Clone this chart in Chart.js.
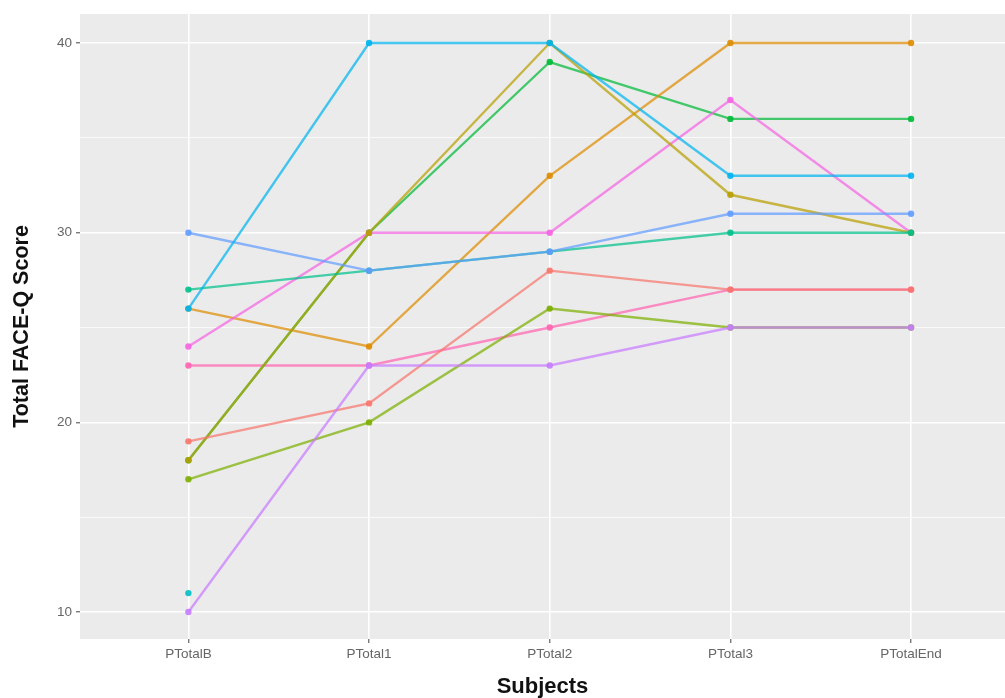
<!DOCTYPE html>
<html>
<head>
<meta charset="utf-8">
<script src="https://cdn.jsdelivr.net/npm/chart.js@4/dist/chart.umd.min.js"></script>
<style>
  html, body { margin: 0; padding: 0; background: #fff; overflow: hidden; }
  canvas { display: block; }
</style>
</head>
<body>
<canvas id="chart" width="1005" height="698"></canvas>
<script>
// categories on the x axis
const categories = ['PTotalB', 'PTotal1', 'PTotal2', 'PTotal3', 'PTotalEnd'];
const yTicks = [10, 15, 20, 25, 30, 35, 40];

// one array per subject (null = missing)
const cyanVals       = [26, 40, 40, 33, 33];
const blueVals       = [30, 28, 29, 31, 31];
const purpleVals     = [10, 23, 23, 25, 25];
const redVals        = [19, 21, 28, 27, 27];
const tealGreenVals  = [27, 28, 29, 30, 30];
const oliveVals      = [18, 30, 40, 32, 30];
const magentaVals    = [24, 30, 30, 37, 30];
const orangeVals     = [26, 24, 33, 40, 40];
const greenVals      = [18, 30, 39, 36, 36];
const limeVals       = [17, 20, 26, 25, 25];
const pinkVals       = [23, 23, 25, 27, 27];
const tealVals       = [11, null, null, null, null];

// first in list is drawn on top
const series = [
  { vals: cyanVals, color: [0, 180, 240] },
  { vals: blueVals, color: [97, 156, 255] },
  { vals: purpleVals, color: [199, 124, 255] },
  { vals: redVals, color: [248, 118, 109] },
  { vals: tealGreenVals, color: [0, 192, 139] },
  { vals: oliveVals, color: [183, 159, 0] },
  { vals: magentaVals, color: [245, 100, 227] },
  { vals: orangeVals, color: [222, 140, 0] },
  { vals: greenVals, color: [0, 186, 56] },
  { vals: limeVals, color: [124, 174, 0] },
  { vals: pinkVals, color: [255, 100, 176] },
  { vals: tealVals, color: [0, 191, 196] }
];

const rgba = (c, a) => 'rgba(' + c.join(',') + ',' + a + ')';

const panelBg = {
  id: 'panelBg',
  beforeDraw(chart) {
    const { ctx, chartArea: a } = chart;
    ctx.save();
    ctx.fillStyle = '#EBEBEB';
    ctx.fillRect(a.left, a.top, a.right - a.left, a.bottom - a.top);
    ctx.restore();
  }
};

const isMajor = v => v % 10 === 0;
const fontFam = 'Liberation Sans, Arial, sans-serif';

new Chart(document.getElementById('chart'), {
  type: 'line',
  data: {
    datasets: series.map(s => ({
      data: s.vals.map((v, i) => ({ x: i, y: v })),
      borderColor: rgba(s.color, 0.72),
      backgroundColor: rgba(s.color, 0.9),
      borderWidth: 2.4,
      pointRadius: 3.2,
      pointBorderWidth: 0,
      spanGaps: false,
      tension: 0
    }))
  },
  options: {
    responsive: false,
    animation: false,
    layout: { autoPadding: false, padding: { top: 14, right: 0, left: 0, bottom: 0 } },
    plugins: { legend: { display: false }, tooltip: { enabled: false } },
    scales: {
      x: {
        type: 'linear',
        min: -0.6,
        max: 4.52,
        afterBuildTicks: s => { s.ticks = categories.map((c, i) => ({ value: i })); },
        afterFit: s => { s.height = 59; s.paddingLeft = 0; s.paddingRight = 0; },
        border: { display: false },
        grid: { color: '#FFFFFF', lineWidth: 1.6, tickColor: '#444444', tickLength: 4, tickWidth: 1 },
        ticks: {
          callback: v => categories[v],
          color: '#666666',
          font: { family: fontFam, size: 13.5 },
          padding: 3,
          maxRotation: 0,
          autoSkip: false
        },
        title: {
          display: true,
          text: 'Subjects',
          color: '#111111',
          font: { family: fontFam, size: 22, weight: 'bold', lineHeight: 1 },
          padding: { top: 0, bottom: 0 }
        }
      },
      y: {
        min: 8.58,
        max: 41.53,
        afterBuildTicks: s => { s.ticks = yTicks.map(v => ({ value: v })); },
        afterFit: s => { s.width = 80; s.paddingTop = 0; s.paddingBottom = 0; },
        border: { display: false },
        grid: {
          color: '#FFFFFF',
          lineWidth: c => isMajor(c.tick.value) ? 1.6 : 0.7,
          tickColor: c => isMajor(c.tick.value) ? '#444444' : 'rgba(0,0,0,0)',
          tickLength: 4,
          tickWidth: 1
        },
        ticks: {
          callback: v => isMajor(v) ? String(v) : '',
          color: '#666666',
          font: { family: fontFam, size: 13.5 },
          padding: 4,
          autoSkip: false
        },
        title: {
          display: true,
          text: 'Total FACE-Q Score',
          color: '#111111',
          font: { family: fontFam, size: 21.5, weight: 'bold', lineHeight: 1 },
          padding: { top: 11, bottom: 0 }
        }
      }
    }
  },
  plugins: [panelBg]
});
</script>
</body>
</html>
